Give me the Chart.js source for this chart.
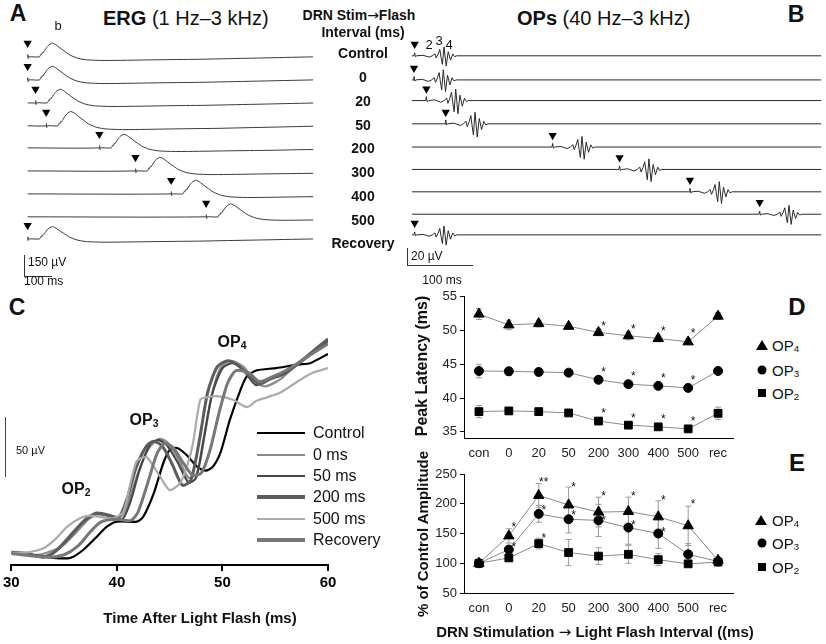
<!DOCTYPE html>
<html>
<head>
<meta charset="utf-8">
<script src="https://cdn.jsdelivr.net/npm/chart.js@4.4.1/dist/chart.umd.min.js"></script>
<style>
  html, body { margin: 0; padding: 0; background: #fff; }
  #fig { position: relative; width: 826px; height: 644px; overflow: hidden;
         font-family: "Liberation Sans", Arial, Helvetica, sans-serif; color: #111; }
  #fig canvas { position: absolute; }
  .t { position: absolute; white-space: nowrap; line-height: 1; transform: translate(-50%, -50%); }
  .l { position: absolute; white-space: nowrap; line-height: 1; transform: translateY(-50%); }
  .b { font-weight: bold; }
  .rot { transform: translate(-50%, -50%) rotate(-90deg); }
  .bar { position: absolute; background: #333; }
  .arr { font-family: "DejaVu Sans", sans-serif; font-weight: normal; }
  sub { font-size: 0.65em; vertical-align: -0.15em; line-height: 0; }
  .tri { position: absolute; width: 0; height: 0; border-left: 6px solid transparent;
         border-right: 6px solid transparent; border-bottom: 10px solid #000; transform: translate(-50%, -50%); }
  .dot { position: absolute; width: 9px; height: 9px; border-radius: 50%; background: #000; transform: translate(-50%, -50%); }
  .sq { position: absolute; width: 8px; height: 8px; background: #000; transform: translate(-50%, -50%); }
</style>
</head>
<body>
<div id="fig">
  <canvas id="cA" width="303" height="230" style="left:15px; top:30px;"></canvas>
  <canvas id="cB" width="422" height="220" style="left:404px; top:30px;"></canvas>
  <canvas id="cC" width="345" height="300" style="left:0px; top:330px;"></canvas>
  <canvas id="cD" width="340" height="183" style="left:400px; top:285px;"></canvas>
  <canvas id="cE" width="340" height="163" style="left:400px; top:460px;"></canvas>

  <div class="t b" style="left:18px; top:13px; font-size:23px;">A</div>
  <div class="t b" style="left:796px; top:14px; font-size:23px;">B</div>
  <div class="t b" style="left:17px; top:307px; font-size:23px;">C</div>
  <div class="t b" style="left:797px; top:307px; font-size:24px;">D</div>
  <div class="t b" style="left:797px; top:463px; font-size:24px;">E</div>

  <div class="l" style="left:103px; top:18px; font-size:20px;"><b>ERG</b> (1 Hz–3 kHz)</div>
  <div class="l" style="left:517px; top:18px; font-size:20px;"><b>OPs</b> (40 Hz–3 kHz)</div>
  <div class="t b" style="left:359px; top:15px; font-size:14px;">DRN Stim<span class="arr">→</span>Flash</div>
  <div class="t b" style="left:363px; top:32px; font-size:14px;">Interval (ms)</div>
  <div id="rowText"></div>

  <div class="t" style="left:58px; top:25px; font-size:13px;">b</div>
  <div class="t" style="left:429px; top:44px; font-size:13px;">2</div>
  <div class="t" style="left:439px; top:40px; font-size:13px;">3</div>
  <div class="t" style="left:449px; top:44px; font-size:13px;">4</div>

  <!-- scale bars -->
  <div class="bar" style="left:24px; top:255px; width:1px; height:21px;"></div>
  <div class="bar" style="left:24px; top:276px; width:28px; height:1px;"></div>
  <div class="l" style="left:28px; top:262px; font-size:12px;">150 µV</div>
  <div class="l" style="left:24px; top:281px; font-size:12px;">100 ms</div>
  <div class="bar" style="left:407px; top:248px; width:1px; height:17px;"></div>
  <div class="bar" style="left:407px; top:265px; width:66px; height:1px;"></div>
  <div class="l" style="left:411px; top:256px; font-size:12px;">20 µV</div>
  <div class="t" style="left:442px; top:280px; font-size:12px;">100 ms</div>

  <div class="bar" style="left:5px; top:417px; width:1px; height:60px; background:#444;"></div>
  <div class="l" style="left:16px; top:450px; font-size:11px;">50 µV</div>
  <div class="t b" style="left:232px; top:342px; font-size:16px;">OP<sub>4</sub></div>
  <div class="t b" style="left:144px; top:420px; font-size:16px;">OP<sub>3</sub></div>
  <div class="t b" style="left:76px; top:489px; font-size:16px;">OP<sub>2</sub></div>
  <div class="t b" style="left:200px; top:617px; font-size:15px;">Time After Light Flash (ms)</div>
  <div id="cLegend"></div>

  <div class="t b rot" style="left:422px; top:366px; font-size:16px;">Peak Latency (ms)</div>
  <div class="t b rot" style="left:422px; top:534px; font-size:15px;">% of Control Amplitude</div>
  <div class="t b" style="left:595px; top:632px; font-size:15px;">DRN Stimulation <span class="arr">→</span> Light Flash Interval ((ms)</div>

  <div class="tri" style="left:762px; top:345px;"></div>
  <div class="l" style="left:772px; top:345px; font-size:15px;">OP<sub>4</sub></div>
  <div class="dot" style="left:762px; top:370px;"></div>
  <div class="l" style="left:772px; top:370px; font-size:15px;">OP<sub>3</sub></div>
  <div class="sq" style="left:762px; top:393px;"></div>
  <div class="l" style="left:772px; top:393px; font-size:15px;">OP<sub>2</sub></div>

  <div class="tri" style="left:761px; top:520px;"></div>
  <div class="l" style="left:772px; top:520px; font-size:15px;">OP<sub>4</sub></div>
  <div class="dot" style="left:762px; top:543px;"></div>
  <div class="l" style="left:772px; top:543px; font-size:15px;">OP<sub>3</sub></div>
  <div class="sq" style="left:762px; top:567px;"></div>
  <div class="l" style="left:772px; top:567px; font-size:15px;">OP<sub>2</sub></div>
</div>

<script>
const FONT = '"Liberation Sans", Arial, Helvetica, sans-serif';

// ---- Panels A / B : one sweep per stimulation interval ----
const rowLabels = ['Control', '0', '20', '50', '200', '300', '400', '500', 'Recovery'];
const rowTextY = [53, 77, 101, 125, 148, 172, 196, 220, 243];

// time of the ▼ marker in each sweep (ms from sweep start)
const ergStimT = [0, 0, 22, 52, 201, 302, 402, 500, 0];
const opStimT = [0, -1, 17, 45, 200, 297, 399, 500, 0];
// vertical stacking of the sweeps (µV)
const ergRowOffset = [0, -190, -379, -568, -750, -940, -1129, -1318, -1500];
const opRowOffset = [0, -28, -52, -79, -106, -132, -158, -184, -208];
const ergGain = [1, 1, 1, 1.05, 1, 1, 1, 0.95, 0.9];
const opGain = [1, 1.15, 1.3, 1.3, 1.2, 1.2, 1.15, 1.0, 1.0];

// ERG waveform (ms after marker, µV)
const ergShapeT = [0, 0.5, 1.5, 3, 33, 37, 39, 41, 43, 47, 51, 55, 60, 65, 69, 75, 82, 90, 100, 110,
                   119, 130, 141, 155, 168, 190, 214, 280, 345, 420, 481, 560, 644, 720, 800];
const ergShapeV = [0, 18, -14, 0, 0, 22, 18, 36, 32, 50, 67, 85, 99, 108, 112, 106, 93, 75, 53, 32,
                   14, 0, -12, -20, -25, -28, -30, -28, -25, -22, -20, -15, -10, -5, 0];
// OP burst (ms after marker, µV)
const opShapeT = [-1, 0, 1, 3, 12, 21, 25.5, 29.3, 31.2, 34, 36.4, 38.3, 40.2, 42.5, 45.7, 48.6, 52, 55.2, 58, 61, 70];
const opShapeV = [0, 3.5, -1, 0, 0.6, -1.5, 0, 2.3, -2.5, 2, 7.4, -2, -10, 10.3, -11.8, 4.8, -5.1, 2.2, -1, 0, 0];

// ---- Panel C : averaged OPs, 30–60 ms (ms, µV) ----
const cNames = ['Control', '0 ms', '50 ms', '200 ms', '500 ms', 'Recovery'];
const cControl = [[30,2.5],[32,1],[34,-1.6],[35.6,-1.6],[36.8,4.9],[38.1,15.8],[39.05,24],[40,28.1],[41.9,28.1],
  [42.5,32.2],[43.5,51.6],[44.4,76.2],[45,86.9],[45.7,88.5],[46.6,82.8],[47.6,73.2],[48.4,69.9],[49.1,73.2],
  [49.8,84.4],[50.7,111.5],[51.7,136],[52.3,147],[53.2,152],[55.1,154],[57.2,157],[58.3,158],[60,165.6]];
const c0ms = [[30,2],[32.5,1],[33.5,3],[34.8,8],[36,18],[37.3,30],[38.2,34],[39,33],[40.3,32],[41,42],[42,68],
  [43,88],[44,96],[44.8,93],[45.8,80],[46.8,64],[47.6,68],[48.3,98],[49,132],[49.8,154],[50.8,160],[52,155],
  [53,144],[54,139],[55.5,145],[57,157],[58.5,167],[60,177]];
const c50ms = [[30,3],[32,1],[33.5,0],[34.5,6],[35.8,18],[37,30],[38,35],[39.3,33],[40.5,30],[41.3,45],[42.2,72],
  [43.2,92],[44,95],[44.8,90],[45.8,76],[46.8,60],[47.5,64],[48.2,95],[49,132],[50,154],[51,158],[52,152],
  [53.2,140],[54.3,145],[55.5,148],[57,156],[58.5,166],[60,176]];
const c200ms = [[30,3],[31.5,2],[33,-1],[34.2,4],[35.5,16],[36.8,28],[38,35],[39,34],[40.2,32],[41,48],[41.8,72],
  [42.8,90],[43.5,94],[44.3,90],[45.2,76],[46.2,58],[47,62],[47.8,94],[48.6,134],[49.5,155],[50.5,160],[51.5,156],
  [52.5,148],[53.5,141],[54.5,145],[56,150],[57.5,160],[60,178]];
const c500ms = [[30,2.5],[31.5,3],[33.1,6.6],[34.2,14],[35.3,24],[36.5,31],[37.5,33],[38.4,32],[39.7,31],[40.6,36],
  [41.3,60],[41.9,78],[42.8,81],[43.5,73],[44.1,65],[45,54],[46,60],[46.7,75],[47.2,92],[47.9,128],[48.5,130],
  [49.5,131],[51,128],[52.3,122],[53.2,127],[54.2,130],[55.5,134],[57.3,144],[58.5,150],[60,154]];
const cRecovery = [[30,2],[33.5,-1],[35,1],[36.3,8],[37.5,20],[38.5,28],[40,30],[41.3,29],[42,36],[43,62],[43.8,84],
  [44.5,92],[45.3,89],[46.3,76],[47.2,66],[48,68],[48.8,86],[49.7,118],[50.5,142],[51.3,152],[52.5,150],[53.5,143],
  [54.5,146],[56,152],[58,163],[60,174]];

// ---- Panels D / E : mean ± SEM ----
const intervals = ['con', '0', '20', '50', '200', '300', '400', '500', 'rec'];
const latOP4 = [52.4, 50.8, 51.0, 50.6, 49.7, 49.2, 48.8, 48.3, 52.1];
const latErr4 = [0.8, 0.7, 0.5, 0.4, 0.5, 0.6, 0.5, 0.4, 0.5];
const latOP3 = [44.0, 43.95, 43.85, 43.75, 42.7, 42.05, 41.8, 41.5, 44.0];
const latErr3 = [1.0, 0.6, 0.3, 0.3, 0.3, 0.3, 0.3, 0.3, 0.2];
const latOP2 = [38.0, 38.1, 38.0, 37.8, 36.6, 36.0, 35.75, 35.45, 37.75];
const latErr2 = [0.9, 0.2, 0.2, 0.2, 0.2, 0.3, 0.3, 0.3, 0.9];
const latStars = [[4,51.1,'*'],[5,50.65,'*'],[6,50.35,'*'],[7,50.05,'*'],
                  [4,44.3,'*'],[5,43.7,'*'],[6,43.4,'*'],[7,43.1,'*'],
                  [4,38.25,'*'],[5,37.5,'*'],[6,37.35,'*'],[7,37.05,'*']];

const ampOP4 = [100, 146, 214, 198, 186, 187, 178, 163, 105];
const ampErr4 = [2, 12, 20, 30, 25, 24, 27, 33, 4];
const ampOP3 = [100, 123, 183, 174, 172, 160, 150, 115, 103];
const ampErr3 = [2, 3, 14, 23, 27, 28, 25, 18, 3];
const ampOP2 = [100, 109, 133, 118, 112, 115, 106, 99, 102];
const ampErr2 = [2, 3, 9, 22, 14, 15, 10, 5, 3];
const ampStars = [[1,166.7,'*'],[2,241.7,'**'],[3,233,'*'],[4,218,'*'],[5,218,'*'],[6,211.7,'*'],[7,205,'*'],
                  [1,131.7,'*'],[2,195,'*'],[3,186.7,'*'],[4,178,'*'],[5,170,'*'],[6,158,'*'],
                  [2,146.7,'*']];

// ---------------------------------------------------------------

// row labels in the middle column
document.getElementById('rowText').innerHTML = rowLabels.map((lab, i) =>
  `<div class="t b" style="left:363px; top:${rowTextY[i]}px; font-size:14px;">${lab}</div>`).join('');

function sweeps(stimT, offsets, gains, shapeT, shapeV, startT, endT, color, tension) {
  return rowLabels.map((lab, i) => {
    const pts = [{ x: startT, y: offsets[i] }];
    shapeT.forEach((t, k) => pts.push({ x: stimT[i] + t, y: offsets[i] + gains[i] * shapeV[k] }));
    if (endT !== null) pts.push({ x: endT, y: offsets[i] });
    return { data: pts, showLine: true, borderColor: color, borderWidth: 1, pointRadius: 0, tension: tension };
  });
}

function markers(stimT, offsets, lift) {
  return {
    data: stimT.map((t, i) => ({ x: t, y: offsets[i] + lift })),
    showLine: false, pointStyle: 'triangle', rotation: 180, pointRadius: 4.8,
    backgroundColor: '#000', borderColor: '#000', borderWidth: 0, clip: false
  };
}

function traceChart(id, datasets, xr, yr) {
  return new Chart(document.getElementById(id), {
    type: 'scatter',
    data: { datasets: datasets },
    options: {
      responsive: false, animation: false, events: [], devicePixelRatio: 1,
      layout: { padding: 0 },
      scales: {
        x: { type: 'linear', display: false, min: xr[0], max: xr[1] },
        y: { type: 'linear', display: false, min: yr[0], max: yr[1] }
      },
      plugins: { legend: { display: false }, tooltip: { enabled: false } }
    }
  });
}

// Panel A
traceChart('cA',
  sweeps(ergStimT, ergRowOffset, ergGain, ergShapeT, ergShapeV, 0, null, '#3a3a3a', 0.3)
    .concat([markers(ergStimT, ergRowOffset, 112)]),
  [-22, 800], [-1634, 181.6]);

// Panel B
traceChart('cB',
  sweeps(opStimT, opRowOffset, opGain, opShapeT, opShapeV, -4, 600, '#2a2a2a', 0)
    .concat([markers(opStimT, opRowOffset, 13.6)]),
  [-8.5, 589.2], [-220, 24.4]);

// Panel C
const cSeries = [cControl, c0ms, c50ms, c200ms, c500ms, cRecovery];
const cColors = ['#000000', '#8a8a8a', '#474747', '#5c5c5c', '#ababab', '#777777'];
const cWidths = [2.2, 2.2, 2.2, 3, 2.2, 3];
const cOrder = [5, 4, 3, 2, 1, 0]; // draw control on top

new Chart(document.getElementById('cC'), {
  type: 'scatter',
  data: {
    datasets: cOrder.map(k => ({
      label: cNames[k],
      data: cSeries[k].map(p => ({ x: p[0], y: p[1] })),
      showLine: true, borderColor: cColors[k], borderWidth: cWidths[k], pointRadius: 0, tension: 0.25
    }))
  },
  options: {
    responsive: false, animation: false, events: [], devicePixelRatio: 1,
    layout: { padding: { left: 11, right: 17, top: 0, bottom: 0 } },
    scales: {
      x: {
        type: 'linear', min: 30, max: 60,
        afterFit: s => { s.height = 65; },
        border: { display: true, color: '#000', width: 2 },
        grid: { display: true, drawOnChartArea: false, drawTicks: true, tickLength: 6, color: '#000', lineWidth: 2 },
        ticks: { stepSize: 10, color: '#000', padding: 3, maxRotation: 0, font: { family: FONT, size: 15, weight: 'bold' } }
      },
      y: { type: 'linear', display: false, min: -7.4, max: 185.2 }
    },
    plugins: { legend: { display: false }, tooltip: { enabled: false } }
  }
});

const cLegendY = [433, 455, 476, 497, 519, 540];
document.getElementById('cLegend').innerHTML = cNames.map((n, k) =>
  `<div style="position:absolute; left:257px; top:${cLegendY[k] - cWidths[k] * 1.3 / 2}px; width:48px; height:${cWidths[k] * 1.3}px; background:${cColors[k]};"></div>` +
  `<div class="l" style="left:313px; top:${cLegendY[k]}px; font-size:16px;">${n}</div>`).join('');

// Panels D / E
const errorBars = {
  id: 'errorBars',
  beforeDatasetsDraw(chart) {
    const ctx = chart.ctx, ys = chart.scales.y;
    chart.data.datasets.forEach((ds, di) => {
      if (!ds.errs) return;
      const meta = chart.getDatasetMeta(di);
      ctx.save();
      ctx.strokeStyle = '#9a9a9a';
      ctx.lineWidth = 1;
      meta.data.forEach((pt, i) => {
        const top = ys.getPixelForValue(ds.data[i] + ds.errs[i]);
        const bot = ys.getPixelForValue(ds.data[i] - ds.errs[i]);
        ctx.beginPath();
        ctx.moveTo(pt.x, top); ctx.lineTo(pt.x, bot);
        ctx.moveTo(pt.x - 3, top); ctx.lineTo(pt.x + 3, top);
        ctx.moveTo(pt.x - 3, bot); ctx.lineTo(pt.x + 3, bot);
        ctx.stroke();
      });
      ctx.restore();
    });
  }
};

const sigStars = {
  id: 'sigStars',
  afterDatasetsDraw(chart, args, opts) {
    const ctx = chart.ctx, xs = chart.scales.x, ys = chart.scales.y;
    ctx.save();
    ctx.fillStyle = '#111';
    ctx.font = '12px ' + FONT;
    ctx.textAlign = 'center';
    ctx.textBaseline = 'alphabetic';
    (opts.marks || []).forEach(m => {
      ctx.fillText(m[2], xs.getPixelForValue(m[0]) + 5, ys.getPixelForValue(m[1]) + 7);
    });
    ctx.restore();
  }
};

function meanSet(vals, errs, style, radius) {
  return {
    data: vals, errs: errs, borderColor: '#8a8a8a', borderWidth: 1, tension: 0,
    pointStyle: style, pointRadius: radius, pointBackgroundColor: '#000', pointBorderColor: '#000', pointBorderWidth: 1
  };
}

function meanChart(id, sets, yMin, yMax, step, padTop, stars) {
  return new Chart(document.getElementById(id), {
    type: 'line',
    data: { labels: intervals, datasets: sets },
    options: {
      responsive: false, animation: false, events: [], devicePixelRatio: 1,
      layout: { padding: { top: padTop, right: 6, left: 0, bottom: 0 } },
      scales: {
        x: {
          offset: true,
          afterFit: s => { s.height = 30; },
          grid: { display: false },
          border: { display: true, color: '#000', width: 1 },
          ticks: { color: '#222', padding: 0, maxRotation: 0, font: { family: FONT, size: 13 } }
        },
        y: {
          min: yMin, max: yMax,
          afterFit: s => { s.width = 64; },
          grid: { display: true, drawOnChartArea: false, drawTicks: true, tickLength: 4, color: '#000' },
          border: { display: true, color: '#000', width: 1 },
          ticks: { stepSize: step, includeBounds: false, color: '#222', padding: 3, font: { family: FONT, size: 13 } }
        }
      },
      plugins: { legend: { display: false }, tooltip: { enabled: false }, sigStars: { marks: stars } }
    },
    plugins: [errorBars, sigStars]
  });
}

meanChart('cD', [
  meanSet(latOP4, latErr4, 'triangle', 6),
  meanSet(latOP3, latErr3, 'circle', 4.5),
  meanSet(latOP2, latErr2, 'rect', 5.5)
], 34.1, 55, 5, 11.5, latStars);

meanChart('cE', [
  meanSet(ampOP4, ampErr4, 'triangle', 6),
  meanSet(ampOP3, ampErr3, 'circle', 4.5),
  meanSet(ampOP2, ampErr2, 'rect', 5.5)
], 50, 250, 50, 14, ampStars);
</script>
</body>
</html>
